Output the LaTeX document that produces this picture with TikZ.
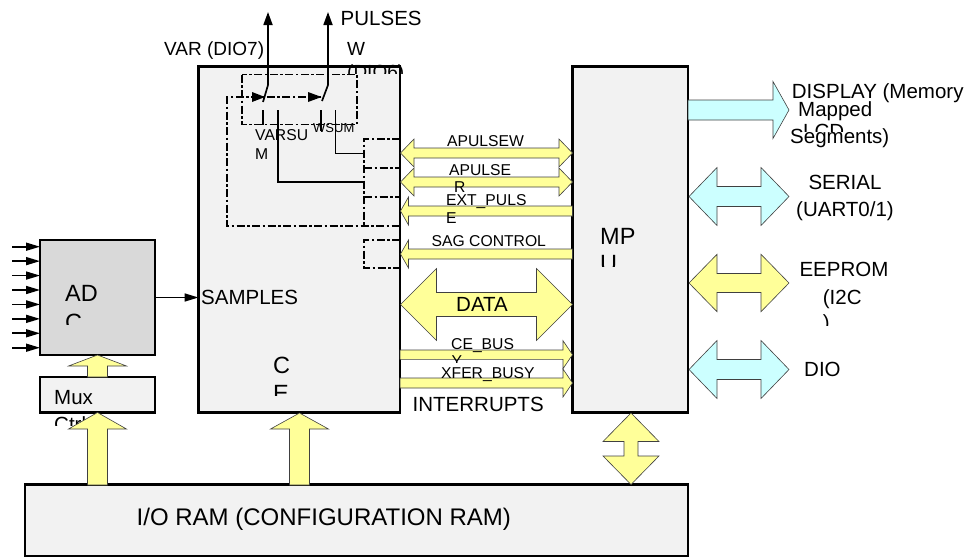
\documentclass[tikz,border=0pt]{standalone}
\usepackage{fontspec}
\setmainfont{Liberation Sans}
\usepackage{tikz}
\usetikzlibrary{arrows.meta,calc,positioning}

\definecolor{boxgray}{RGB}{242,242,242}
\definecolor{adcgray}{RGB}{217,217,217}
\definecolor{busyellow}{RGB}{255,255,153}
\definecolor{buscyan}{RGB}{204,255,255}

% Blockpfeile: Farbe, x1, x2, y-Mitte, halber Schaft, halber Kopf, Kopflaenge
\newcommand{\hdarrow}[7]{%
  \draw[fatline,fill=#1] (#2,#4) -- ({#2+(#7)},{#4-(#6)}) -- ({#2+(#7)},{#4-(#5)}) -- ({#3-(#7)},{#4-(#5)}) -- ({#3-(#7)},{#4-(#6)}) -- (#3,#4)
    -- ({#3-(#7)},{#4+(#6)}) -- ({#3-(#7)},{#4+(#5)}) -- ({#2+(#7)},{#4+(#5)}) -- ({#2+(#7)},{#4+(#6)}) -- cycle;}
% einfach: Farbe, Ende, Spitze, y-Mitte, halber Schaft, halber Kopf, Kopflaenge (Vorzeichen = Richtung)
\newcommand{\hsarrow}[7]{%
  \draw[fatline,fill=#1] (#2,{#4-(#5)}) -- ({#3-(#7)},{#4-(#5)}) -- ({#3-(#7)},{#4-(#6)}) -- (#3,#4)
    -- ({#3-(#7)},{#4+(#6)}) -- ({#3-(#7)},{#4+(#5)}) -- (#2,{#4+(#5)}) -- cycle;}
% senkrecht: Farbe, x-Mitte, Ende, Spitze, halber Schaft, halber Kopf, Kopflaenge
\newcommand{\vsarrow}[7]{%
  \draw[fatline,fill=#1] ({#2-(#5)},#3) -- ({#2-(#5)},{#4-(#7)}) -- ({#2-(#6)},{#4-(#7)}) -- (#2,#4)
    -- ({#2+(#6)},{#4-(#7)}) -- ({#2+(#5)},{#4-(#7)}) -- ({#2+(#5)},#3) -- cycle;}
\newcommand{\vdarrow}[7]{%
  \draw[fatline,fill=#1] (#2,#3) -- ({#2+(#6)},{#3+(#7)}) -- ({#2+(#5)},{#3+(#7)}) -- ({#2+(#5)},{#4-(#7)}) -- ({#2+(#6)},{#4-(#7)}) -- (#2,#4)
    -- ({#2-(#6)},{#4-(#7)}) -- ({#2-(#5)},{#4-(#7)}) -- ({#2-(#5)},{#3+(#7)}) -- ({#2-(#6)},{#3+(#7)}) -- cycle;}

\begin{document}
\begin{tikzpicture}[x=1pt,y=-1pt,
  block/.style={draw,line width=2.2pt,fill=boxgray,inner sep=0pt,outer sep=0pt,anchor=north west},
  fatline/.style={draw=black!75,line width=0.6pt},
  sig/.style={line width=1.7pt,-{Triangle[length=13pt,width=9pt]}},
  inarr/.style={line width=1.6pt,-{Triangle[length=14pt,width=8pt]}},
  ctl/.style={line width=1.8pt,dash pattern=on 8pt off 2.5pt on 2.5pt off 2.5pt},
  wire/.style={line width=1.7pt},
  lbl/.style={inner sep=0pt,anchor=base west,font=\fontsize{20.5}{24}\selectfont},
  sml/.style={inner sep=0pt,anchor=base west,font=\fontsize{15.7}{18}\selectfont},
  big/.style={inner sep=0pt,anchor=base west,font=\fontsize{23.5}{28}\selectfont}]
\useasboundingbox (0,0) rectangle (972,557);

%Bloecke
\node[block,minimum width=201.5pt,minimum height=346pt] (ce) at (198.5,66.5) {};
\node[block,minimum width=115.5pt,minimum height=346pt] (mpu) at (572.5,66.5) {};
\node[block,fill=adcgray,minimum width=115pt,minimum height=115pt] (adc) at (40,240) {};
\node[block,minimum width=115pt,minimum height=35.5pt] (mux) at (40,377) {};
\node[block,minimum width=663pt,minimum height=71.5pt] (ioram) at (25,484.5) {};

%Schalter im CE
\draw[ctl] (242,74.5) rectangle (357,124.5);
\coordinate (varout) at (268,12);
\coordinate (wout) at (328,12);
\draw[sig] (263,102) -- (268,85) -- (varout);
\draw[sig] (322,101) -- (328,85) -- (wout);
\draw[wire] (263,110) -- (263,125);
\draw[wire] (321,110) -- (321,131);
\draw[wire] (278,110) -- (278,182) -- (364,182);
\draw[line width=1pt] (335,110) -- (335,153.5) -- (364,153.5);
\draw[ctl] (321,97) -- (227,97) -- (227,226) -- (ce.east |- 0,226);
\fill (252,92) -- (265,97) -- (252,102) -- cycle;
\fill (308,92) -- (321.5,97) -- (308,102) -- cycle;
\draw[ctl] (ce.east |- 0,139) -- (364,139) -- (364,226);
\draw[ctl] (364,168) -- (ce.east |- 0,168);
\draw[ctl] (364,197) -- (ce.east |- 0,197);
\draw[ctl] (ce.east |- 0,240) -- (364,240) -- (364,268) -- (ce.east |- 0,268);

%Eingaenge ADC
\foreach \i in {0,...,7}
  \draw[inarr] ($(adc.north west)+(-28,{6.7+14.43*\i})$) -- ($(adc.north west)+(0,{6.7+14.43*\i})$);
\draw[inarr] (adc.east) -- (adc.east -| ce.west);

%Busse CE - MPU
\hdarrow{busyellow}{400.5}{572.5}{153}{5}{14}{13.5}
\hdarrow{busyellow}{400.5}{572.5}{182}{5}{14}{13.5}
\hsarrow{busyellow}{572.5}{400.5}{211}{5}{14}{-8}
\hsarrow{busyellow}{572.5}{400.5}{254}{5}{14}{-8}
\hdarrow{busyellow}{400.5}{572.5}{304.5}{12}{36}{36}
\hsarrow{busyellow}{400}{572.5}{354.7}{4.7}{14}{9.5}
\hsarrow{busyellow}{400}{572.5}{383}{5}{14}{9.5}

%MPU - Peripherie
\hsarrow{buscyan}{688}{789}{110}{10}{28.5}{16}
\hdarrow{buscyan}{689}{789}{196.5}{10}{29}{28}
\hdarrow{busyellow}{689}{789}{283}{9.5}{28.7}{28}
\hdarrow{buscyan}{689}{789}{369.5}{10}{29}{28}

%von unten
\vsarrow{busyellow}{97.5}{377}{355}{10}{29}{-11}
\vsarrow{busyellow}{299.5}{485}{413}{10}{29}{-16}
\vdarrow{busyellow}{631}{413}{484.5}{7}{28}{28.5}

%Texte
\node[lbl] (pulses) at (340.5,25) {PULSES};
\node[lbl,font=\fontsize{19}{22}\selectfont] (var) at (164,55) {VAR (DIO7)};
\node[lbl,font=\fontsize{19}{22}\selectfont] (w) at (347,55) {W};
\begin{scope}
  \clip (300,60) rectangle (420,73.5);
  \node[lbl,font=\fontsize{19}{22}\selectfont] (dio6) at (347,78) {(DIO6)};
\end{scope}
\node[sml] (varsu) at (255,140) {VARSU};
\node[sml] (varsum) at (255,159) {M};
\node[sml,font=\fontsize{13}{15}\selectfont] (wsum) at (313,132) {WSUM};
\node[sml] (apulsew) at (447,146) {APULSEW};
\node[sml] (apulser) at (449,175) {APULSE};
\node[sml] (apulser2) at (454,192) {R};
\node[sml] (extpuls) at (446,205) {EXT\_PULS};
\node[sml] (extpuls2) at (446,223) {E};
\node[sml] (sag) at (431.5,246.7) {SAG CONTROL};
\node[lbl] (data) at (456,311.5) {DATA};
\node[sml] (cebus) at (451,349.3) {CE\_BUS};
\begin{scope}
  \clip (440,350) rectangle (480,362);
  \node[sml] (cebus2) at (451.5,366.5) {Y};
\end{scope}
\node[sml] (xfer) at (441,378.3) {XFER\_BUSY};
\node[lbl] (intr) at (412.5,411.7) {INTERRUPTS};
\node[lbl] (samples) at (201,304) {SAMPLES};
\node[big] (adctext) at (65,301.7) {AD};
\begin{scope}
  \clip (55,305) rectangle (150,324);
  \node[big] (adctext2) at (65,330) {C};
\end{scope}
\node[lbl] (muxtext) at (54,404) {Mux};
\begin{scope}
  \clip (45,413) rectangle (150,425);
  \node[lbl] (muxtext2) at (54,431.4) {Ctrl};
\end{scope}
\vsarrow{busyellow}{97.5}{485}{412.5}{10}{29}{-16.5}
\node[big] (cetext) at (273,373.3) {C};
\begin{scope}
  \clip (260,378) rectangle (320,395.5);
  \node[big] (cetext2) at (273,401.8) {E};
\end{scope}
\node[big] (mputext) at (600,244) {MP};
\begin{scope}
  \clip (590,250) rectangle (660,266.7);
  \node[big] (mputext2) at (600,271.8) {U};
\end{scope}
\node[big,font=\fontsize{24}{28}\selectfont] (iotext) at (136.5,525) {I/O RAM (CONFIGURATION RAM)};
\node[lbl] (display) at (791.7,98) {DISPLAY (Memory};
\node[lbl] (mapped) at (798,116.7) {Mapped};
\begin{scope}
  \clip (795,118) rectangle (860,131);
  \node[lbl] (lcd) at (803,138) {LCD};
\end{scope}
\node[lbl] (segments) at (790,143.3) {Segments)};
\node[lbl] (serial) at (808.3,189.3) {SERIAL};
\node[lbl] (uart) at (796,216) {(UART0/1)};
\node[lbl] (eeprom) at (799.3,276.7) {EEPROM};
\node[lbl] (i2c) at (822.7,304) {(I2C};
\begin{scope}
  \clip (815,308) rectangle (860,325);
  \node[lbl] (i2c2) at (822.7,329) {)};
\end{scope}
\node[lbl] (dio) at (804,376.7) {DIO};
\end{tikzpicture}
\end{document}
